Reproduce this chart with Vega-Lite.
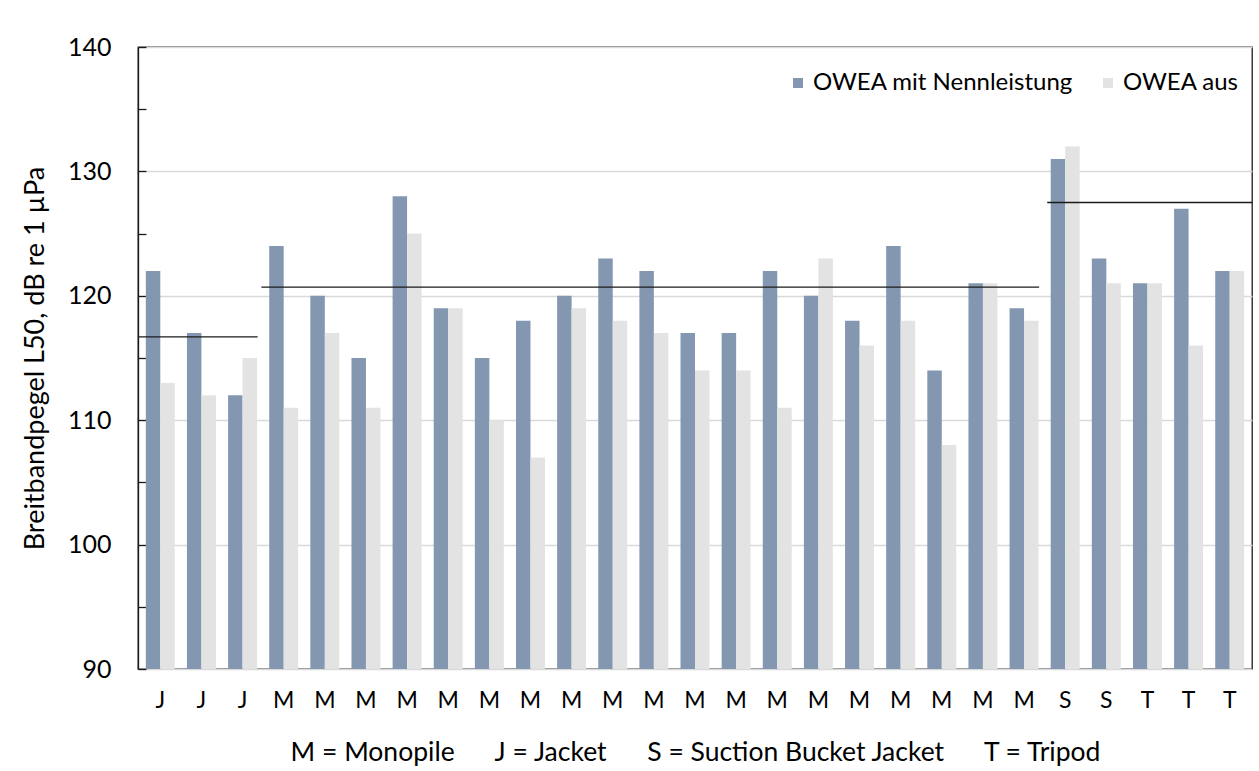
{
  "$schema": "https://vega.github.io/schema/vega-lite/v6.json",
  "width": 1114,
  "height": 622,
  "autosize": {"type": "none"},
  "padding": {"left": 138, "top": 47, "right": 7, "bottom": 102},
  "background": "white",
  "config": {
    "font": "Lato",
    "view": {"stroke": "#1a1a1a", "strokeWidth": 1.3}
  },
  "datasets": {
    "bars": [
      {"idx": 1, "type": "J", "series": "OWEA mit Nennleistung", "value": 122}, {"idx": 1, "type": "J", "series": "OWEA aus", "value": 113},
      {"idx": 2, "type": "J", "series": "OWEA mit Nennleistung", "value": 117}, {"idx": 2, "type": "J", "series": "OWEA aus", "value": 112},
      {"idx": 3, "type": "J", "series": "OWEA mit Nennleistung", "value": 112}, {"idx": 3, "type": "J", "series": "OWEA aus", "value": 115},
      {"idx": 4, "type": "M", "series": "OWEA mit Nennleistung", "value": 124}, {"idx": 4, "type": "M", "series": "OWEA aus", "value": 111},
      {"idx": 5, "type": "M", "series": "OWEA mit Nennleistung", "value": 120}, {"idx": 5, "type": "M", "series": "OWEA aus", "value": 117},
      {"idx": 6, "type": "M", "series": "OWEA mit Nennleistung", "value": 115}, {"idx": 6, "type": "M", "series": "OWEA aus", "value": 111},
      {"idx": 7, "type": "M", "series": "OWEA mit Nennleistung", "value": 128}, {"idx": 7, "type": "M", "series": "OWEA aus", "value": 125},
      {"idx": 8, "type": "M", "series": "OWEA mit Nennleistung", "value": 119}, {"idx": 8, "type": "M", "series": "OWEA aus", "value": 119},
      {"idx": 9, "type": "M", "series": "OWEA mit Nennleistung", "value": 115}, {"idx": 9, "type": "M", "series": "OWEA aus", "value": 110},
      {"idx": 10, "type": "M", "series": "OWEA mit Nennleistung", "value": 118}, {"idx": 10, "type": "M", "series": "OWEA aus", "value": 107},
      {"idx": 11, "type": "M", "series": "OWEA mit Nennleistung", "value": 120}, {"idx": 11, "type": "M", "series": "OWEA aus", "value": 119},
      {"idx": 12, "type": "M", "series": "OWEA mit Nennleistung", "value": 123}, {"idx": 12, "type": "M", "series": "OWEA aus", "value": 118},
      {"idx": 13, "type": "M", "series": "OWEA mit Nennleistung", "value": 122}, {"idx": 13, "type": "M", "series": "OWEA aus", "value": 117},
      {"idx": 14, "type": "M", "series": "OWEA mit Nennleistung", "value": 117}, {"idx": 14, "type": "M", "series": "OWEA aus", "value": 114},
      {"idx": 15, "type": "M", "series": "OWEA mit Nennleistung", "value": 117}, {"idx": 15, "type": "M", "series": "OWEA aus", "value": 114},
      {"idx": 16, "type": "M", "series": "OWEA mit Nennleistung", "value": 122}, {"idx": 16, "type": "M", "series": "OWEA aus", "value": 111},
      {"idx": 17, "type": "M", "series": "OWEA mit Nennleistung", "value": 120}, {"idx": 17, "type": "M", "series": "OWEA aus", "value": 123},
      {"idx": 18, "type": "M", "series": "OWEA mit Nennleistung", "value": 118}, {"idx": 18, "type": "M", "series": "OWEA aus", "value": 116},
      {"idx": 19, "type": "M", "series": "OWEA mit Nennleistung", "value": 124}, {"idx": 19, "type": "M", "series": "OWEA aus", "value": 118},
      {"idx": 20, "type": "M", "series": "OWEA mit Nennleistung", "value": 114}, {"idx": 20, "type": "M", "series": "OWEA aus", "value": 108},
      {"idx": 21, "type": "M", "series": "OWEA mit Nennleistung", "value": 121}, {"idx": 21, "type": "M", "series": "OWEA aus", "value": 121},
      {"idx": 22, "type": "M", "series": "OWEA mit Nennleistung", "value": 119}, {"idx": 22, "type": "M", "series": "OWEA aus", "value": 118},
      {"idx": 23, "type": "S", "series": "OWEA mit Nennleistung", "value": 131}, {"idx": 23, "type": "S", "series": "OWEA aus", "value": 132},
      {"idx": 24, "type": "S", "series": "OWEA mit Nennleistung", "value": 123}, {"idx": 24, "type": "S", "series": "OWEA aus", "value": 121},
      {"idx": 25, "type": "T", "series": "OWEA mit Nennleistung", "value": 121}, {"idx": 25, "type": "T", "series": "OWEA aus", "value": 121},
      {"idx": 26, "type": "T", "series": "OWEA mit Nennleistung", "value": 127}, {"idx": 26, "type": "T", "series": "OWEA aus", "value": 116},
      {"idx": 27, "type": "T", "series": "OWEA mit Nennleistung", "value": 122}, {"idx": 27, "type": "T", "series": "OWEA aus", "value": 122}
    ],
    "means": [
      {"group": "J", "start": 1, "end": 3, "mean": 116.7},
      {"group": "M", "start": 4, "end": 22, "mean": 120.7},
      {"group": "ST", "start": 23, "end": 27, "mean": 127.5}
    ]
  },
  "layer": [
    {
      "data": {"name": "bars"},
      "mark": {"type": "bar"},
      "encoding": {
        "x": {
          "field": "idx",
          "type": "ordinal",
          "scale": {"paddingInner": 0.296, "paddingOuter": 0.19},
          "axis": {
            "labelAngle": 0,
            "ticks": false,
            "domain": false,
            "grid": false,
            "labelFont": "Lato",
            "labelFontSize": 23,
            "labelColor": "#000000",
            "labelPadding": 20,
            "labelExpr": "['J','J','J','M','M','M','M','M','M','M','M','M','M','M','M','M','M','M','M','M','M','M','S','S','T','T','T'][datum.value - 1]",
            "title": "M = Monopile\u00a0\u00a0\u00a0\u00a0\u00a0\u00a0J = Jacket\u00a0\u00a0\u00a0\u00a0\u00a0\u00a0S = Suction Bucket Jacket\u00a0\u00a0\u00a0\u00a0\u00a0\u00a0T = Tripod",
            "titleFont": "Lato",
            "titleFontSize": 26.5,
            "titleFontWeight": "normal",
            "titleColor": "#000000",
            "titlePadding": 27
          }
        },
        "xOffset": {
          "field": "series",
          "type": "nominal",
          "sort": ["OWEA mit Nennleistung", "OWEA aus"],
          "scale": {"paddingInner": 0, "paddingOuter": 0}
        },
        "y": {
          "field": "value",
          "type": "quantitative",
          "scale": {"domain": [90, 140], "zero": false, "nice": false},
          "axis": {
            "values": [90, 95, 100, 105, 110, 115, 120, 125, 130, 135, 140],
            "labelExpr": "datum.value % 10 === 0 ? datum.label : ''",
            "tickSize": -8,
            "tickColor": "#1a1a1a",
            "tickWidth": 1.3,
            "domainColor": "#1a1a1a",
            "domainWidth": 1.3,
            "gridColor": "#d9d9d9",
            "gridWidth": 1.3,
            "gridOpacity": {"condition": {"test": "datum.value % 10 === 0", "value": 1}, "value": 0},
            "labelFont": "Lato",
            "labelFontSize": 25,
            "labelColor": "#000000",
            "labelPadding": 35,
            "title": "Breitbandpegel L50, dB re 1 µPa",
            "titleFont": "Lato",
            "titleFontSize": 27,
            "titleFontWeight": "normal",
            "titleColor": "#000000",
            "titlePadding": 18
          }
        },
        "y2": {"datum": 90},
        "color": {
          "field": "series",
          "type": "nominal",
          "sort": ["OWEA mit Nennleistung", "OWEA aus"],
          "scale": {"domain": ["OWEA mit Nennleistung", "OWEA aus"], "range": ["#8497b0", "#e3e3e3"]},
          "legend": {
            "title": null,
            "orient": "none",
            "direction": "horizontal",
            "legendX": 648,
            "legendY": 24,
            "symbolType": "square",
            "symbolSize": 100,
            "symbolStrokeWidth": 0,
            "labelFont": "Lato",
            "labelFontSize": 24,
            "labelColor": "#000000",
            "labelLimit": 0,
            "labelOffset": 3,
            "columnPadding": 22
          }
        }
      }
    },
    {
      "data": {"name": "means"},
      "transform": [{"filter": "datum.group !== 'ST'"}],
      "mark": {"type": "rule", "color": "#1a1a1a", "strokeWidth": 1.3},
      "encoding": {
        "x": {"field": "start", "type": "ordinal", "bandPosition": -0.27},
        "x2": {"field": "end", "bandPosition": 1.02},
        "y": {"field": "mean", "type": "quantitative"}
      }
    },
    {
      "data": {"name": "means"},
      "transform": [{"filter": "datum.group === 'ST'"}],
      "mark": {"type": "rule", "color": "#1a1a1a", "strokeWidth": 1.3},
      "encoding": {
        "x": {"field": "start", "type": "ordinal", "bandPosition": -0.12},
        "x2": {"field": "end", "bandPosition": 1.27},
        "y": {"field": "mean", "type": "quantitative"}
      }
    }
  ]
}
